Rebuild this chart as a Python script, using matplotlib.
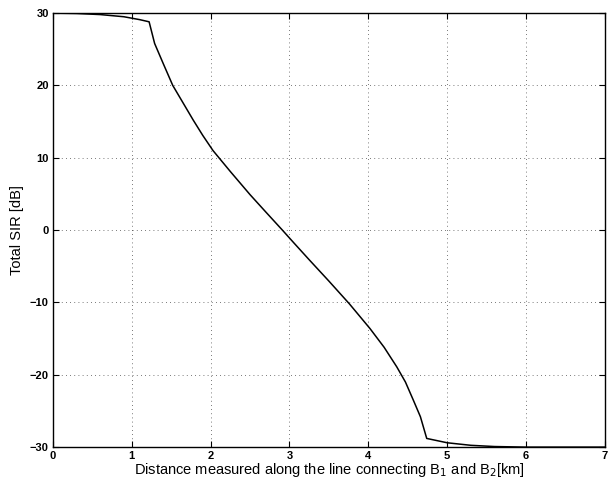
import matplotlib
matplotlib.use("Agg")
import matplotlib.pyplot as plt

plt.rcParams['font.family'] = ['Liberation Sans', 'DejaVu Sans']

# Total SIR along the line between the two base stations
distance_km = [0.0, 0.3, 0.6, 0.9, 1.1, 1.22, 1.29, 1.40, 1.52, 1.65, 1.78, 1.90, 2.03,
               2.25, 2.50, 2.70, 2.91, 3.05, 3.25, 3.50, 3.76, 4.02, 4.20,
               4.36, 4.47, 4.57, 4.66, 4.74, 5.0, 5.3, 5.6, 6.0, 7.0]
sir_db = [30.0, 29.95, 29.8, 29.5, 29.1, 28.8, 25.8, 23.0, 20.0, 17.6, 15.2, 13.1, 11.0,
          8.1, 4.9, 2.5, 0.0, -1.7, -4.1, -7.05, -10.2, -13.6, -16.2,
          -18.9, -21.0, -23.5, -25.8, -28.8, -29.4, -29.75, -29.92, -30.0, -30.0]

x_ticks = [0, 1, 2, 3, 4, 5, 6, 7]
y_ticks = [-30, -20, -10, 0, 10, 20, 30]

fig = plt.figure(figsize=(6.08, 4.86), dpi=100)
ax = fig.add_axes([0.087, 0.080, 0.908, 0.893])

ax.plot(distance_km, sir_db, color='black', linewidth=1.1)

ax.set_xlim(0, 7)
ax.set_ylim(-30, 30)
ax.set_xticks(x_ticks)
ax.set_yticks(y_ticks)
ax.tick_params(direction='in', top=True, right=True, length=4, labelsize=8,
               pad=3)
for lbl in ax.get_xticklabels() + ax.get_yticklabels():
    lbl.set_fontweight('bold')
ax.grid(True, linestyle=(0, (1, 4)), color='black', linewidth=0.6, alpha=0.7)
for sp in ax.spines.values():
    sp.set_linewidth(1.0)

ax.set_xlabel('Distance measured along the line connecting B$_1$ and B$_2$[km]',
              fontsize=10.5, labelpad=0)
ax.set_ylabel('Total SIR [dB]', fontsize=10.5, labelpad=4)

fig.savefig('out.png', dpi=100)
